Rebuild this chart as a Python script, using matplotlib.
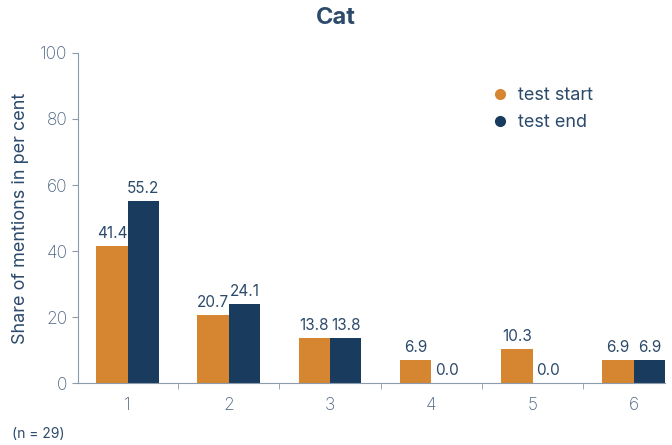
import matplotlib.pyplot as plt
import numpy as np

plt.rcParams["font.family"] = ["Inter", "DejaVu Sans"]

categories = ["1", "2", "3", "4", "5", "6"]
test_start = [41.4, 20.7, 13.8, 6.9, 10.3, 6.9]
test_end = [55.2, 24.1, 13.8, 0.0, 0.0, 6.9]

orange = "#D68531"
navy = "#183B5E"
text_col = "#2C4A6B"
axis_col = "#8C9BAB"

fig = plt.figure(figsize=(6.72, 4.45), dpi=100)
ax = fig.add_axes([0.116, 0.139, 0.874, 0.742])

x = np.arange(len(categories))
w = 0.31
b1 = ax.bar(x - w / 2, test_start, w, color=orange, label="test start")
b2 = ax.bar(x + w / 2, test_end, w, color=navy, label="test end")

for bars, vals in [(b1, test_start), (b2, test_end)]:
    for bar, v in zip(bars, vals):
        ax.text(bar.get_x() + bar.get_width() / 2, v + 1.5, f"{v:.1f}",
                ha="center", va="bottom", fontsize=11, color=text_col)

ax.set_yticks(np.arange(0, 101, 20))
ax.set_xticks(x)
ax.set_xticklabels(categories)
# boundary ticks between the groups
ax.set_xticks(np.arange(-0.5, 5.0, 1), minor=True)
ax.set_xlim(-0.49, 5.31)
ax.set_ylim(0, 100)
ax.tick_params(axis="x", which="major", length=0, pad=10)
ax.tick_params(axis="x", which="minor", length=4, color=axis_col)
ax.tick_params(axis="y", length=4, color=axis_col)
for lab in ax.get_xticklabels() + ax.get_yticklabels():
    lab.set_fontsize(12.5)
    lab.set_color("#4A6382")
    lab.set_fontweight("light")

for s in ["top", "right"]:
    ax.spines[s].set_visible(False)
for s in ["left", "bottom"]:
    ax.spines[s].set_color(axis_col)

ax.set_ylabel("Share of mentions in per cent", fontsize=13, color=text_col, labelpad=8)
fig.text(0.5, 0.96, "Cat", fontsize=17, fontweight="bold", color=text_col,
         ha="center", va="center")

handles = [plt.Line2D([], [], marker="o", linestyle="", color=orange, markersize=7),
           plt.Line2D([], [], marker="o", linestyle="", color=navy, markersize=7)]
leg = ax.legend(handles, ["test start", "test end"], loc="upper left",
                bbox_to_anchor=(0.66, 0.945), frameon=False, fontsize=13,
                handletextpad=0.0, labelspacing=0.55)
for t in leg.get_texts():
    t.set_color(text_col)

fig.text(0.018, 0.015, "(n = 29)", fontsize=10, color=text_col)

fig.savefig("out.png", dpi=100)
